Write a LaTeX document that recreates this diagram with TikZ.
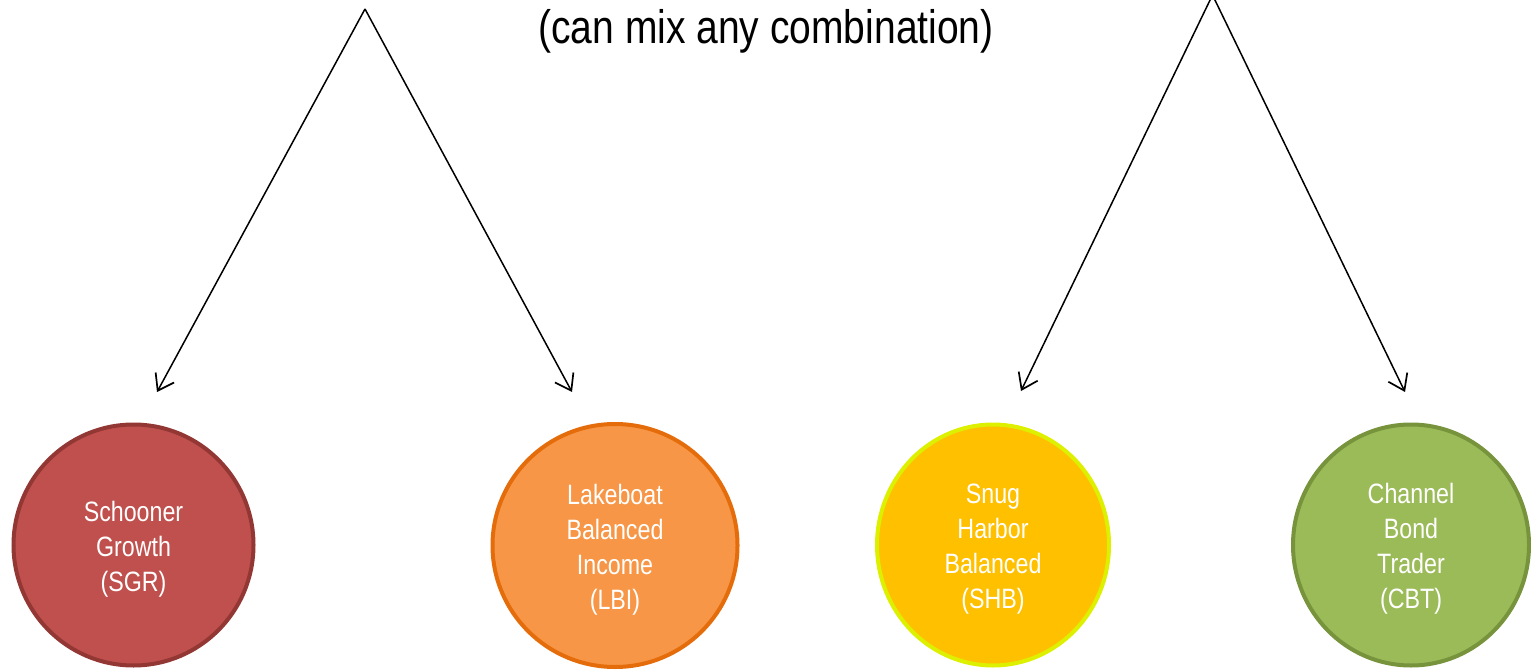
\documentclass[tikz,border=0pt]{standalone}
\usepackage{fontspec}
\setmainfont{Liberation Sans}[FakeStretch=0.83]
\usetikzlibrary{arrows.meta,shapes.geometric}
\definecolor{sgrfill}{HTML}{C0504D}
\definecolor{sgrline}{HTML}{923734}
\definecolor{lbifill}{HTML}{F79646}
\definecolor{lbiline}{HTML}{E46C0A}
\definecolor{shbfill}{HTML}{FFC000}
\definecolor{shbline}{HTML}{DDF000}
\definecolor{cbtfill}{HTML}{9BBB59}
\definecolor{cbtline}{HTML}{77933C}
\newcommand{\fundlabel}[1]{\raisebox{-4pt}[\height][\depth]{\begin{tabular}{@{}c@{}}#1\end{tabular}}}
\tikzset{
  fund/.style={ellipse, line width=4pt, inner sep=0pt,
    text=white, font=\fontsize{28}{35}\selectfont},
  link/.style={line width=1.5pt, draw=black,
    -{Straight Barb[length=15pt,width=21pt,line width=1.7pt]}},
  title/.style={font=\fontsize{47}{50}\selectfont, text=black, inner sep=0pt}
}
\begin{document}
\begin{tikzpicture}[x=1pt,y=-1pt]
\useasboundingbox (0,0) rectangle (1531,671);
\fill[white] (0,0) rectangle (1531,671);
\node[title] (note) at (766,31) {(can mix any combination)};
\node[fund, fill=sgrfill, draw=sgrline, minimum width=240pt, minimum height=241pt] (sgr) at (133.5,545) {\fundlabel{Schooner\\Growth\\(SGR)}};
\node[fund, fill=lbifill, draw=lbiline, minimum width=245pt, minimum height=243pt] (lbi) at (615,545.5) {\fundlabel{Lakeboat\\Balanced\\Income\\(LBI)}};
\node[fund, fill=shbfill, draw=shbline, minimum width=232pt, minimum height=241pt] (shb) at (993,545) {\fundlabel{Snug\\Harbor\\Balanced\\(SHB)}};
\node[fund, fill=cbtfill, draw=cbtline, minimum width=236pt, minimum height=241pt] (cbt) at (1411,545) {\fundlabel{Channel\\Bond\\Trader\\(CBT)}};
\coordinate (apexL) at (365,9);
\coordinate (apexR) at (1212.5,-5);
\coordinate (tipSGR) at (157,392);
\coordinate (tipLBI) at (572,392);
\coordinate (tipSHB) at (1021,391);
\coordinate (tipCBT) at (1405,392);
\draw[link] (apexL) -- (tipSGR);
\draw[link] (apexL) -- (tipLBI);
\draw[link] (apexR) -- (tipSHB);
\draw[link] (apexR) -- (tipCBT);
\end{tikzpicture}
\end{document}
